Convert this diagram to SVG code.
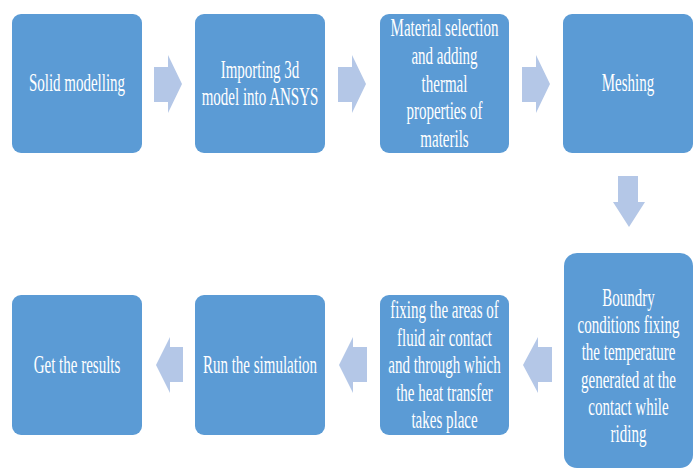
<svg xmlns="http://www.w3.org/2000/svg" width="700" height="470" viewBox="0 0 700 470">
<defs>
<style>
.box{fill:#5B9BD5;}
.arr{fill:#B4C7E7;}
.t{font-family:"Liberation Serif","Times New Roman",serif;font-size:25px;fill:#FFFFFF;text-anchor:middle;}
</style>
</defs>
<rect width="700" height="470" fill="#FFFFFF"/>
<g id="connectors">
<polygon class="arr" points="154,67 168,67 168,55 182,84 168,113 168,102 154,102"/>
<polygon class="arr" points="338,67 352,67 352,55 366,84 352,113 352,102 338,102"/>
<polygon class="arr" points="522,67 536,67 536,55 550,84 536,113 536,102 522,102"/>
<polygon class="arr" points="618,176 638,176 638,202 645,202 629,227 613,202 618,202"/>
<polygon class="arr" points="552,347 538,347 538,337 523,365 538,393 538,382 552,382"/>
<polygon class="arr" points="367,347 353,347 353,337 339,365 353,393 353,382 367,382"/>
<polygon class="arr" points="183,347 170,347 170,337 156,365 170,393 170,382 183,382"/>
</g>
<g id="n1">
<rect class="box" x="12" y="14" width="130" height="139" rx="9"/>
<text class="t" transform="translate(77 91) scale(0.6 1)" x="0" y="0">Solid modelling</text>
</g>
<g id="n2">
<rect class="box" x="195" y="14" width="130" height="139" rx="9"/>
<text class="t" transform="translate(260 0) scale(0.6 1)"><tspan x="0" y="78">Importing 3d</tspan><tspan x="0" y="105">model into ANSYS</tspan></text>
</g>
<g id="n3">
<rect class="box" x="380" y="14" width="129" height="139" rx="9"/>
<text class="t" transform="translate(444.5 0) scale(0.6 1)"><tspan x="0" y="36">Material selection</tspan><tspan x="0" y="64">and adding</tspan><tspan x="0" y="92">thermal</tspan><tspan x="0" y="119">properties of</tspan><tspan x="0" y="147">materils</tspan></text>
</g>
<g id="n4">
<rect class="box" x="563" y="14" width="130" height="139" rx="9"/>
<text class="t" transform="translate(628 91) scale(0.6 1)" x="0" y="0">Meshing</text>
</g>
<g id="n5">
<rect class="box" x="564" y="253" width="129" height="215" rx="13"/>
<text class="t" transform="translate(628.5 0) scale(0.6 1)"><tspan x="0" y="306">Boundry</tspan><tspan x="0" y="333">conditions fixing</tspan><tspan x="0" y="360">the temperature</tspan><tspan x="0" y="388">generated at the</tspan><tspan x="0" y="415">contact while</tspan><tspan x="0" y="442">riding</tspan></text>
</g>
<g id="n6">
<rect class="box" x="380" y="295" width="129" height="140" rx="9"/>
<text class="t" transform="translate(444.5 0) scale(0.6 1)"><tspan x="0" y="318">fixing the areas of</tspan><tspan x="0" y="346">fluid air contact</tspan><tspan x="0" y="373">and through which</tspan><tspan x="0" y="401">the heat transfer</tspan><tspan x="0" y="428">takes place</tspan></text>
</g>
<g id="n7">
<rect class="box" x="195" y="295" width="130" height="140" rx="9"/>
<text class="t" transform="translate(260 373) scale(0.6 1)" x="0" y="0">Run the simulation</text>
</g>
<g id="n8">
<rect class="box" x="12" y="295" width="130" height="140" rx="9"/>
<text class="t" transform="translate(77 373) scale(0.6 1)" x="0" y="0">Get the results</text>
</g>
</svg>
